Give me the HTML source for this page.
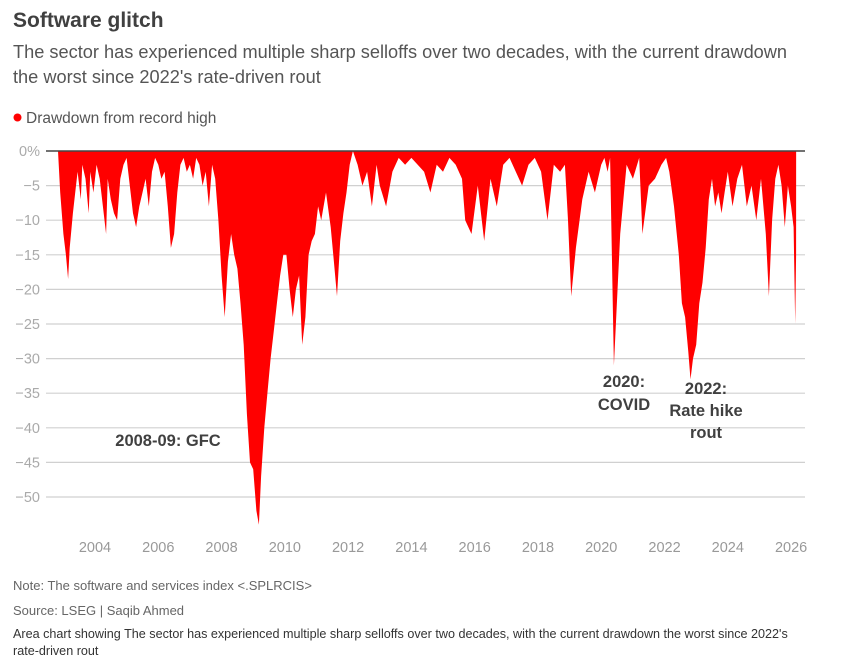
<!DOCTYPE html>
<html><head><meta charset="utf-8"><style>
html,body{margin:0;padding:0;background:#fff;width:843px;height:665px;overflow:hidden;font-family:"Liberation Sans",sans-serif}
svg text{font-family:"Liberation Sans",sans-serif}
</style></head><body>
<svg id="c" width="843" height="665" viewBox="0 0 843 665">
<text x="13" y="27" font-size="21" font-weight="bold" fill="#404040">Software glitch</text>
<text x="13" y="58" font-size="18.2" fill="#555">The sector has experienced multiple sharp selloffs over two decades, with the current drawdown</text>
<text x="13" y="83" font-size="18.2" fill="#555">the worst since 2022's rate-driven rout</text>
<circle cx="17.5" cy="117.5" r="4" fill="#ff0000"/>
<text x="26" y="123" font-size="15.5" fill="#555">Drawdown from record high</text>
<g id="grid"></g>
<g id="area"></g>
<g id="xt"></g>
<text x="168" y="446" font-size="16.5" font-weight="bold" fill="#404040" text-anchor="middle">2008-09: GFC</text>
<text x="624" y="387" font-size="16.5" font-weight="bold" fill="#404040" text-anchor="middle">2020:</text>
<text x="624" y="410" font-size="16.5" font-weight="bold" fill="#404040" text-anchor="middle">COVID</text>
<text x="706" y="394" font-size="16.5" font-weight="bold" fill="#404040" text-anchor="middle">2022:</text>
<text x="706" y="416" font-size="16.5" font-weight="bold" fill="#404040" text-anchor="middle">Rate hike</text>
<text x="706" y="438" font-size="16.5" font-weight="bold" fill="#404040" text-anchor="middle">rout</text>
<text x="13" y="590" font-size="13" fill="#666">Note: The software and services index &lt;.SPLRCIS&gt;</text>
<text x="13" y="615" font-size="13" fill="#666">Source: LSEG | Saqib Ahmed</text>
<text x="13" y="638" font-size="12.6" fill="#333">Area chart showing The sector has experienced multiple sharp selloffs over two decades, with the current drawdown the worst since 2022's</text>
<text x="13" y="655" font-size="12.6" fill="#333">rate-driven rout</text>
</svg>
<script>
const yTicks=[0,-5,-10,-15,-20,-25,-30,-35,-40,-45,-50];
const xTicks=[2004,2006,2008,2010,2012,2014,2016,2018,2020,2022,2024,2026];
const years=[2002.83,2002.9,2003.0,2003.08,2003.15,2003.2,2003.3,2003.4,2003.45,2003.55,2003.6,2003.7,2003.8,2003.85,2003.95,2004.05,2004.15,2004.25,2004.35,2004.4,2004.5,2004.6,2004.7,2004.8,2004.9,2005.0,2005.1,2005.2,2005.3,2005.4,2005.5,2005.6,2005.7,2005.8,2005.9,2006.0,2006.1,2006.2,2006.3,2006.4,2006.5,2006.6,2006.7,2006.8,2006.9,2007.0,2007.1,2007.2,2007.3,2007.4,2007.5,2007.6,2007.7,2007.8,2007.9,2008.0,2008.1,2008.2,2008.3,2008.4,2008.5,2008.6,2008.7,2008.8,2008.9,2009.0,2009.1,2009.18,2009.25,2009.35,2009.45,2009.55,2009.65,2009.75,2009.85,2009.95,2010.05,2010.15,2010.25,2010.35,2010.45,2010.55,2010.65,2010.75,2010.85,2010.95,2011.05,2011.15,2011.3,2011.45,2011.55,2011.65,2011.75,2011.85,2011.95,2012.05,2012.15,2012.3,2012.45,2012.6,2012.75,2012.9,2013.0,2013.2,2013.4,2013.6,2013.8,2014.0,2014.2,2014.4,2014.6,2014.8,2015.0,2015.2,2015.4,2015.6,2015.7,2015.9,2016.1,2016.3,2016.5,2016.7,2016.9,2017.1,2017.3,2017.5,2017.7,2017.9,2018.1,2018.3,2018.5,2018.7,2018.85,2018.95,2019.05,2019.2,2019.4,2019.6,2019.8,2020.0,2020.1,2020.2,2020.28,2020.4,2020.6,2020.8,2021.0,2021.2,2021.3,2021.5,2021.7,2021.9,2022.05,2022.15,2022.3,2022.45,2022.55,2022.65,2022.75,2022.82,2022.9,2023.0,2023.1,2023.2,2023.3,2023.4,2023.5,2023.6,2023.7,2023.8,2023.9,2024.0,2024.15,2024.3,2024.45,2024.6,2024.75,2024.9,2025.05,2025.2,2025.3,2025.4,2025.5,2025.6,2025.7,2025.8,2025.9,2026.0,2026.08,2026.13,2026.16];
const drawdown=[0,-6,-12,-15,-18.5,-14,-9,-5,-3,-7,-2,-4,-9,-3,-6,-2,-4,-8,-12,-4,-7,-9,-10,-4,-2,-1,-5,-9,-11,-8,-6,-4,-8,-3,-1,-2,-4,-3,-8,-14,-12,-6,-2,-1,-3,-2,-4,-1,-2,-5,-3,-8,-2,-4,-10,-18,-24,-16,-12,-15,-17,-22,-28,-38,-45,-46,-52,-54,-47,-40,-35,-30,-26,-22,-18,-15,-15,-20,-24,-20,-18,-28,-24,-15,-13,-12,-8,-10,-6,-11,-16,-21,-13,-9,-6,-2,0,-2,-5,-3,-8,-2,-5,-8,-3,-1,-2,-1,-2,-3,-6,-2,-3,-1,-2,-4,-10,-12,-5,-13,-4,-8,-2,-1,-3,-5,-2,-1,-3,-10,-2,-3,-2,-10,-21,-14,-7,-3,-6,-2,-1,-3,-1,-31,-12,-2,-4,-1,-12,-5,-4,-2,-1,-3,-8,-15,-22,-24,-29,-33,-30,-28,-22,-19,-14,-7,-4,-8,-6,-9,-6,-3,-8,-4,-2,-8,-5,-10,-4,-12,-21,-10,-4,-2,-5,-11,-5,-8,-11,-25,-15,0];
const X0=95,PX_PER_YEAR=31.64,Y0=151,PX_PER_PCT=6.92,XL=46,XR=805;
const xs=y=>X0+(y-2004)*PX_PER_YEAR;
const ys=v=>Y0-v*PX_PER_PCT;
const NS='http://www.w3.org/2000/svg';
const grid=document.getElementById('grid'),area=document.getElementById('area'),xt=document.getElementById('xt');
yTicks.forEach(t=>{
 if(t!==0){const l=document.createElementNS(NS,'line');
 l.setAttribute('x1',XL);l.setAttribute('x2',XR);l.setAttribute('y1',ys(t));l.setAttribute('y2',ys(t));
 l.setAttribute('stroke','#d0d0d0');l.setAttribute('stroke-width','1.2');
 
 
 grid.appendChild(l);}
 const tx=document.createElementNS(NS,'text');
 tx.setAttribute('x',40);tx.setAttribute('y',ys(t)+5);tx.setAttribute('text-anchor','end');
 tx.setAttribute('font-size','14.5');tx.setAttribute('fill','#aaa');
 tx.textContent=t===0?'0%':'\u2212'+Math.abs(t);
 
 
 grid.appendChild(tx);
});
let d='M'+xs(years[0])+','+ys(0);
years.forEach((y,i)=>{d+=' L'+xs(y).toFixed(1)+','+ys(drawdown[i]).toFixed(1);});
d+=' L'+xs(years[years.length-1])+','+ys(0)+' Z';
const p=document.createElementNS(NS,'path');
p.setAttribute('d',d);p.setAttribute('fill','#ff0000');


area.appendChild(p);
const base=document.createElementNS(NS,'line');
base.setAttribute('x1',XL);base.setAttribute('x2',XR);base.setAttribute('y1',Y0);base.setAttribute('y2',Y0);
base.setAttribute('stroke','#444');base.setAttribute('stroke-width','1.5');


area.appendChild(base);
xTicks.forEach(t=>{
 const tx=document.createElementNS(NS,'text');
 tx.setAttribute('x',xs(t));tx.setAttribute('y',552);tx.setAttribute('text-anchor','middle');
 tx.setAttribute('font-size','14.5');tx.setAttribute('fill','#999');
 tx.textContent=t;
 
 
 xt.appendChild(tx);
});
</script>
</body></html>
